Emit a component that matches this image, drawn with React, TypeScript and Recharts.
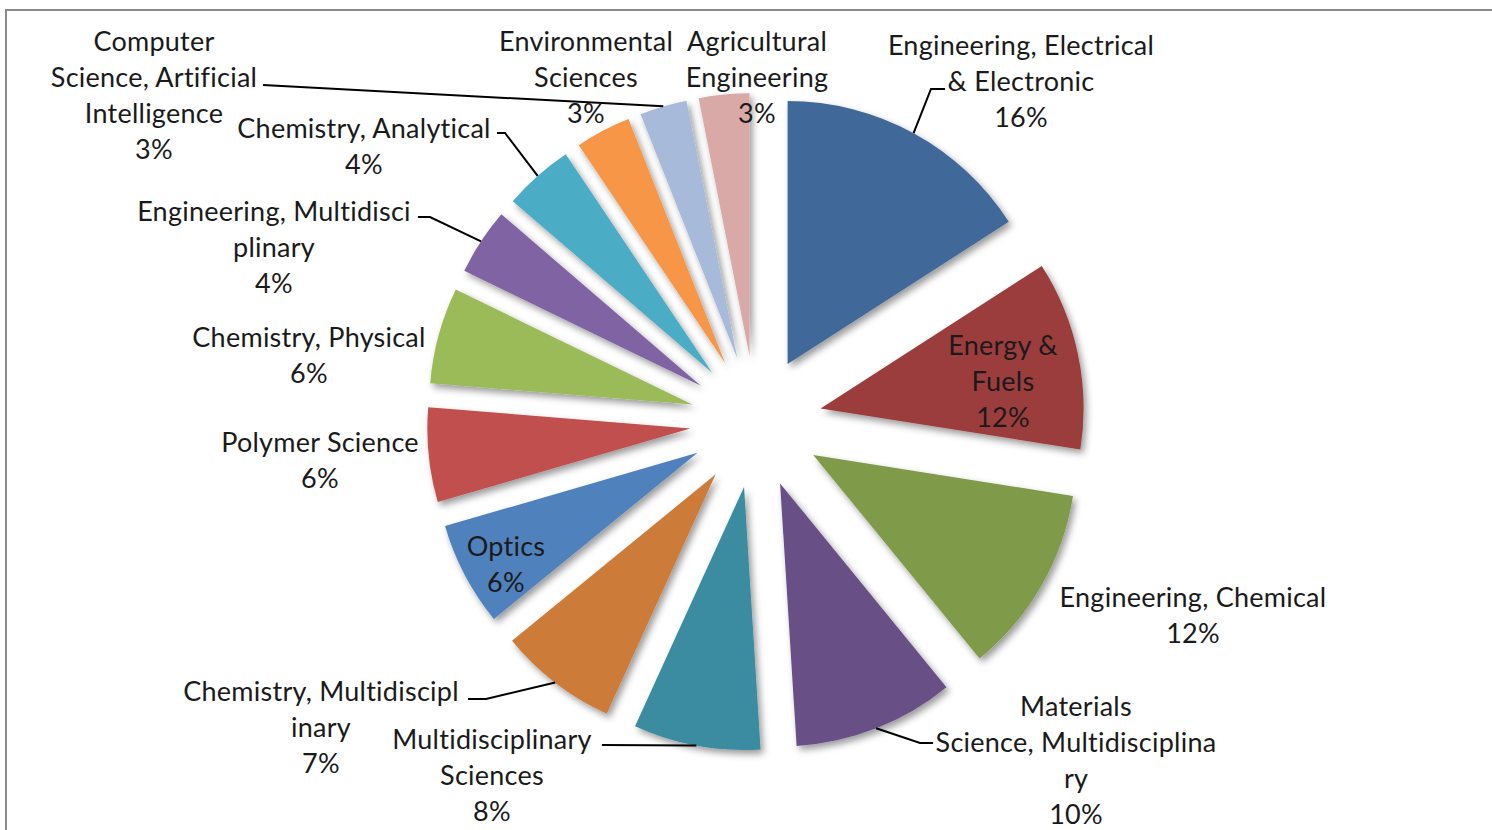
import React from 'react';
import { PieChart, Pie, Cell, Sector, Tooltip } from 'recharts';

// ---------- data ----------
const CATEGORIES = [
  'Engineering, Electrical & Electronic',
  'Energy & Fuels',
  'Engineering, Chemical',
  'Materials Science, Multidisciplinary',
  'Multidisciplinary Sciences',
  'Chemistry, Multidisciplinary',
  'Optics',
  'Polymer Science',
  'Chemistry, Physical',
  'Engineering, Multidisciplinary',
  'Chemistry, Analytical',
  'Computer Science, Artificial Intelligence',
  'Environmental Sciences',
  'Agricultural Engineering',
];
const SHARES = [15.9, 11.6, 11.6, 9.9, 7.8, 7.3, 6.4, 5.8, 5.9, 4.1, 4.3, 3.4, 2.9, 3.1];

// label text as wrapped in the picture
const LABEL_LINES = [
  ['Engineering, Electrical', '& Electronic'],
  ['Energy &', 'Fuels'],
  ['Engineering, Chemical'],
  ['Materials', 'Science, Multidisciplina', 'ry'],
  ['Multidisciplinary', 'Sciences'],
  ['Chemistry, Multidiscipl', 'inary'],
  ['Optics'],
  ['Polymer Science'],
  ['Chemistry, Physical'],
  ['Engineering, Multidisci', 'plinary'],
  ['Chemistry, Analytical'],
  ['Computer', 'Science, Artificial', 'Intelligence'],
  ['Environmental', 'Sciences'],
  ['Agricultural', 'Engineering'],
];

// ---------- styling / layout ----------
const COLORS = [
  '#3F6899', '#9C3E3C', '#7F9A48', '#684F86', '#3A8BA1', '#CC7B38', '#4F81BD',
  '#C0504D', '#9BBB59', '#8064A2', '#4BACC6', '#F79646', '#A8BADA', '#D9A9A8',
];
// center (x, y of first line) of each label block
const LABEL_POS: [number, number][] = [
  [1021, 44], [1003, 344], [1193, 596], [1076, 705], [492, 738], [321, 690], [506, 545],
  [320, 441], [309, 336], [274, 210], [364, 127], [154, 40], [586, 40], [757, 40],
];
// leader lines: label-side points; the end is the slice's outer arc midpoint
const LEADERS: { slice: number; points: [number, number][] }[] = [
  { slice: 0, points: [[945, 89], [931, 89]] },
  { slice: 3, points: [[933, 743], [920, 743]] },
  { slice: 4, points: [[602, 745]] },
  { slice: 5, points: [[468, 699], [486, 699]] },
  { slice: 9, points: [[418, 217], [430, 217]] },
  { slice: 10, points: [[497, 133], [505, 133]] },
  { slice: 12, points: [[263, 85]] },
];

const W = 1492;
const H = 830;
const CX = 756;
const CY = 422;
const R = 263;
const EXPLODE = 66;
const LINE_H = 36;
const FONT = 'Lato, "Open Sans", sans-serif';
const RAD = Math.PI / 180;

const data = CATEGORIES.map((name, i) => ({ name, value: SHARES[i] }));

function ExplodedSlice(props: any) {
  const { cx, cy, innerRadius, outerRadius, startAngle, endAngle, fill } = props;
  const mid = props.midAngle ?? (startAngle + endAngle) / 2;
  const dx = EXPLODE * Math.cos(-mid * RAD);
  const dy = EXPLODE * Math.sin(-mid * RAD);
  return (
    <Sector
      cx={cx + dx}
      cy={cy + dy}
      innerRadius={innerRadius}
      outerRadius={outerRadius}
      startAngle={startAngle}
      endAngle={endAngle}
      fill={fill}
      stroke="none"
      filter="url(#sliceShadow)"
    />
  );
}

function renderLabel(props: any) {
  const { midAngle, percent, index } = props;
  const cx = props.cx ?? CX;
  const cy = props.cy ?? CY;
  const outer = props.outerRadius ?? R;
  const ex = cx + (EXPLODE + outer) * Math.cos(-midAngle * RAD);
  const ey = cy + (EXPLODE + outer) * Math.sin(-midAngle * RAD);
  const lines = [...LABEL_LINES[index], `${Math.round(percent * 100)}%`];
  const [lx, ly] = LABEL_POS[index];
  const leaders = LEADERS.filter((l) => l.slice === index);
  return (
    <g key={`lbl-${index}`}>
      {leaders.map((l, k) => (
        <polyline
          key={k}
          points={[...l.points, [ex, ey]].map((p) => p.join(',')).join(' ')}
          fill="none"
          stroke="#000"
          strokeWidth={2}
        />
      ))}
      <text
        x={lx}
        y={ly}
        textAnchor="middle"
        fontFamily={FONT}
        fontSize={27}
        letterSpacing={0.25}
        fill="#1a1a1a"
      >
        {lines.map((t, k) => (
          <tspan key={k} x={lx} y={ly + k * LINE_H} dominantBaseline="central">
            {t}
          </tspan>
        ))}
      </text>
    </g>
  );
}

export default function App() {
  return (
    <div
      style={{
        position: 'absolute',
        left: 0,
        top: 0,
        width: W,
        height: H,
        overflow: 'hidden',
        background: '#fff',
      }}
    >
      <svg width={0} height={0} style={{ position: 'absolute' }}>
        <defs>
          <filter id="sliceShadow" x="-20%" y="-20%" width="140%" height="140%">
            <feDropShadow dx={3} dy={4} stdDeviation={3.5} floodColor="#000" floodOpacity={0.4} />
          </filter>
        </defs>
      </svg>
      <div
        style={{
          position: 'absolute',
          left: 5,
          top: 9,
          width: 1700,
          height: 1000,
          border: '2px solid #8a8a8a',
          boxSizing: 'border-box',
        }}
      />
      <div style={{ position: 'absolute', left: 0, top: 0 }}>
        <PieChart width={W} height={H} margin={{ top: 0, right: 0, bottom: 0, left: 0 }}>
          <Pie
            data={data}
            dataKey="value"
            nameKey="name"
            cx={CX}
            cy={CY}
            innerRadius={0}
            outerRadius={R}
            startAngle={90}
            endAngle={-270}
            stroke="none"
            isAnimationActive={false}
            activeShape={ExplodedSlice}
            inactiveShape={ExplodedSlice}
            shape={ExplodedSlice}
            label={renderLabel}
            labelLine={false}
          >
            {data.map((d, i) => (
              <Cell key={d.name} fill={COLORS[i]} />
            ))}
          </Pie>
          <Tooltip defaultIndex={0} content={() => null} cursor={false} />
        </PieChart>
      </div>
    </div>
  );
}
